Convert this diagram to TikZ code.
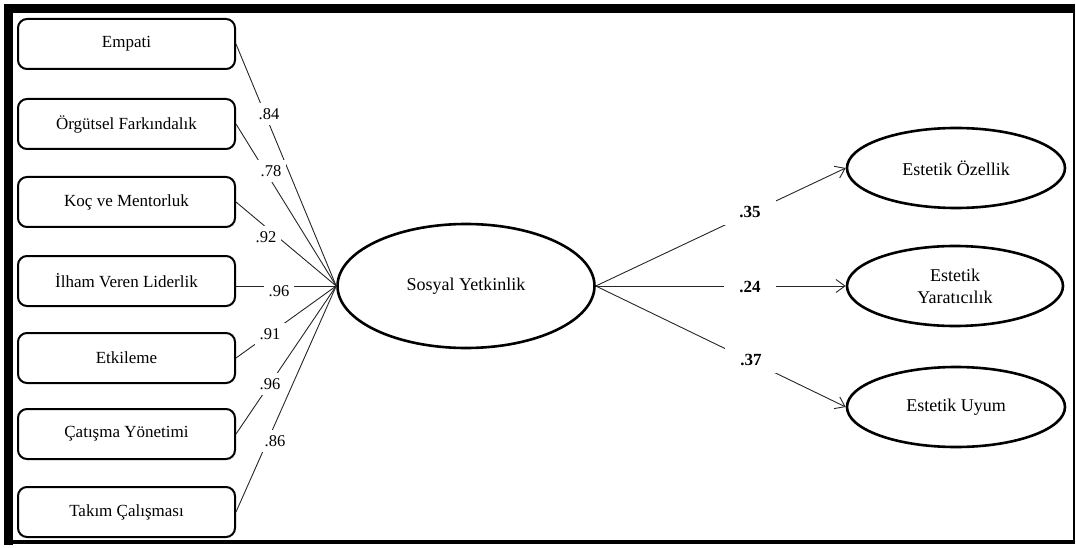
\documentclass[tikz,border=0pt]{standalone}
\usepackage{fontspec}
\setmainfont{Liberation Serif}
\usetikzlibrary{shapes.geometric, arrows.meta}
\begin{document}
\begin{tikzpicture}[x=1pt,y=-1pt,
  box/.style={draw, line width=2pt, rounded corners=9pt, minimum width=217pt, minimum height=50pt, font=\fontsize{17}{20}\selectfont, inner sep=0pt},
  ell/.style={draw, ellipse, line width=2.6pt, inner sep=0pt, font=\fontsize{18}{22}\selectfont, align=center},
  conn/.style={line width=0.9pt, draw=black!85},
  lbl/.style={fill=white, font=\fontsize{16.5}{18}\selectfont, inner sep=5pt},
  blbl/.style={fill=white, font=\bfseries\fontsize{17}{18}\selectfont, inner xsep=15pt, inner ysep=7pt},
  arr/.style={conn, -{Straight Barb[length=9pt, width=13pt]}}
]
\useasboundingbox (0,0) rectangle (1076,548);
% frame
\fill (4,4) rectangle (13,545);
\fill (4,4) rectangle (1075,13);
\fill (4,540) rectangle (1075,544);
\fill (1073,4) rectangle (1075,544);
% indicator boxes
\node[box] (emp) at (126.5,44)  {Empati};
\node[box] (org) at (126.5,124) {Örgütsel Farkındalık};
\node[box] (koc) at (126.5,202) {Koç ve Mentorluk};
\node[box] (ilh) at (126.5,281) {İlham Veren Liderlik};
\node[box] (etk) at (126.5,358) {Etkileme};
\node[box] (cat) at (126.5,434) {Çatışma Yönetimi};
\node[box] (tak) at (126.5,512) {Takım Çalışması};
% latent
\node[ell, minimum width=257pt, minimum height=124pt] (sy) at (466,286) {Sosyal Yetkinlik};
\node[ell, minimum width=218pt, minimum height=80pt] (eo) at (956,168) {Estetik Özellik};
\node[ell, minimum width=216pt, minimum height=80pt] (ey) at (955,286) {Estetik\\Yaratıcılık};
\node[ell, minimum width=218pt, minimum height=80pt] (eu) at (956,407) {Estetik Uyum};
% connectors
\draw[conn] (emp.east) -- (sy.west);
\draw[conn] (org.east) -- (sy.west);
\draw[conn] (koc.east) -- (sy.west);
\draw[conn] (ilh.east |- sy.west) -- (sy.west);
\draw[conn] (etk.east) -- (sy.west);
\draw[conn] (cat.east) -- (sy.west);
\draw[conn] (tak.east) -- (sy.west);
\draw[arr] (sy.east) -- (eo.west);
\draw[arr] (sy.east) -- (ey.west);
\draw[arr] (sy.east) -- (eu.west);
% labels
\node[lbl] (l1) at (269,114) {.84};
\node[lbl] (l2) at (271,171) {.78};
\node[lbl] (l3) at (266,237) {.92};
\node[lbl] (l4) at (279,291) {.96};
\node[lbl] (l5) at (270,334) {.91};
\node[lbl] (l6) at (270,384) {.96};
\node[lbl] (l7) at (275,441) {.86};
\node[blbl] (r1) at (750,212) {.35};
\node[blbl] (r2) at (750,287) {.24};
\node[blbl] (r3) at (751,360) {.37};
\end{tikzpicture}
\end{document}
